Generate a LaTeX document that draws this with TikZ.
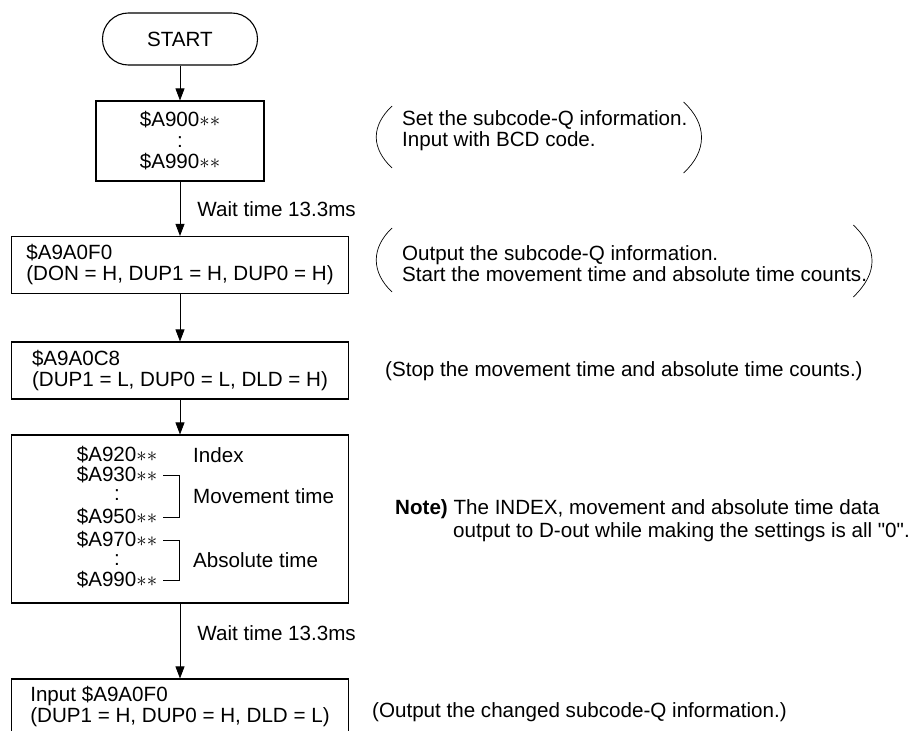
\documentclass[tikz,border=0pt]{standalone}
\usepackage{fontspec}
\setmainfont{Liberation Sans}[Ligatures=TeXOff]
\usetikzlibrary{arrows.meta}

\begin{document}
\begin{tikzpicture}[x=1pt, y=-1pt,
    font=\fontsize{20.6}{21}\selectfont,
    box/.style={draw, line width=1.1pt, inner sep=0pt},
    wide/.style={box, minimum width=337pt, minimum height=57pt, align=left},
    row/.style={inner xsep=6pt, inner ysep=0pt},
    lbl/.style={anchor=west, inner sep=0pt, align=left},
    flow/.style={-{Triangle[length=12pt,width=9pt]}, line width=0.8pt},
    paren/.style={line width=0.7pt}]
    \useasboundingbox (0,0) rectangle (916,731);
    % flow boxes
    \node[box, rounded corners=25.9pt, minimum width=155pt, minimum height=52pt] (start) at (180,39) {START};
    \node[box, minimum width=168pt, minimum height=80pt, align=center] (setq) at (180,141) {\$A900$\ast\ast$\\:\\\$A990$\ast\ast$};
    \node[wide] (outq) at (180,265) {\$A9A0F0\\(DON = H, DUP1 = H, DUP0 = H)};
    \node[wide] (stopq) at (180,370.5) {\$A9A0C8\\(DUP1 = L, DUP0 = L, DLD = H)};
    \node[box, minimum width=337pt, minimum height=168pt] (data) at (180,519) {};
    \node[wide, minimum height=54pt] (newq) at (180,706) {Input \$A9A0F0\\(DUP1 = H, DUP0 = H, DLD = L)};
    % rows of the data box
    \foreach \n/\y in {920/455, 930/475, 950/517, 970/540, 990/580}
        \node[row] (r\n) at (117,\y) {\$A\n$\ast\ast$};
    \node[row] (c1) at (117,495) {:};
    \node[row] (c2) at (117,560) {:};
    \draw[line width=0.7pt] (r930.east) -- ++(16,0) |- (r950.east);
    \draw[line width=0.7pt] (r970.east) -- ++(16,0) |- (r990.east);
    \node[lbl] (index) at (193,455) {Index};
    \node[lbl] (movt) at (193,496) {Movement time};
    \node[lbl] (abst) at (193,560) {Absolute time};
    % connectors
    \draw[flow] (start) -- (setq);
    \draw[flow] (setq) -- node[lbl, right=17pt] {Wait time 13.3ms} (outq);
    \draw[flow] (outq) -- (stopq);
    \draw[flow] (stopq) -- (data);
    \draw[flow] (data) -- node[lbl, right=17pt, pos=0.4] {Wait time 13.3ms} (newq);
    % comments on the right
    \node[lbl] (setnote) at (402,131) {Set the subcode-Q information.\\Input with BCD code.};
    \node[lbl] (outnote) at (402,264) {Output the subcode-Q information.\\Start the movement time and absolute time counts.};
    \node[lbl] (stopnote) at (385,371) {(Stop the movement time and absolute time counts.)};
    \node[lbl] (note) at (395,509) {\textbf{Note)} The INDEX, movement and absolute time data};
    \node[lbl] (note2) at (453,532) {output to D-out while making the settings is all "0".};
    \node[lbl] (chgnote) at (372,712) {(Output the changed subcode-Q information.)};
    \draw[paren] ([shift={(-10,-25)}]setnote.west) .. controls +(-21,20) and +(-21,-20) .. ([shift={(-10,37)}]setnote.west);
    \draw[paren] ([shift={(-4,-29)}]setnote.east) .. controls +(24,22) and +(24,-22) .. ([shift={(-4,42)}]setnote.east);
    \draw[paren] ([shift={(-10,-36)}]outnote.west) .. controls +(-21,20) and +(-21,-20) .. ([shift={(-10,28)}]outnote.west);
    \draw[paren] ([shift={(-14,-39)}]outnote.east) .. controls +(25,24) and +(25,-24) .. ([shift={(-14,33)}]outnote.east);
\end{tikzpicture}
\end{document}
